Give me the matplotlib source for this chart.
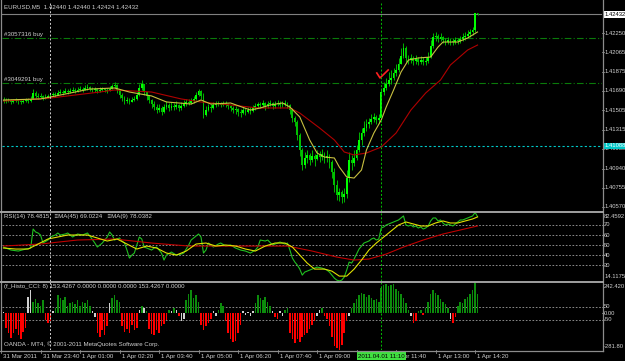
import matplotlib
matplotlib.use('Agg')
import matplotlib.pyplot as plt
import matplotlib.transforms as mtrans
import numpy as np

# ---------------- data (EURUSD M5, bar 0 = 31 Mar 22:25, bar 192 = 1 Apr 14:25) ----------------
closes = [1.41603,1.41593,1.41603,1.41584,1.41593,1.41603,1.41593,1.41584,1.41593,1.41603,
          1.41593,1.41613,1.41671,1.41642,1.41633,1.41642,1.41623,1.41633,1.41642,1.41652,
          1.41662,1.41652,1.41671,1.41681,1.41671,1.41690,1.41681,1.41690,1.41700,1.41690,
          1.41700,1.41710,1.41700,1.41719,1.41729,1.41710,1.41700,1.41710,1.41690,1.41700,
          1.41710,1.41700,1.41690,1.41710,1.41738,1.41748,1.41700,1.41652,1.41623,1.41593,
          1.41603,1.41584,1.41603,1.41613,1.41652,1.41719,1.41758,1.41681,1.41642,1.41603,
          1.41565,1.41536,1.41507,1.41526,1.41488,1.41536,1.41555,1.41526,1.41545,1.41536,
          1.41555,1.41526,1.41545,1.41565,1.41584,1.41574,1.41593,1.41613,1.41652,1.41690,
          1.41642,1.41458,1.41507,1.41536,1.41526,1.41555,1.41565,1.41574,1.41555,1.41574,
          1.41565,1.41545,1.41526,1.41507,1.41516,1.41488,1.41478,1.41507,1.41488,1.41507,
          1.41497,1.41526,1.41545,1.41565,1.41555,1.41574,1.41545,1.41565,1.41574,1.41545,
          1.41565,1.41574,1.41555,1.41565,1.41574,1.41555,1.41507,1.41429,1.41391,1.41266,
          1.41121,1.40976,1.41044,1.41073,1.41024,1.41063,1.41034,1.41073,1.41053,1.41082,
          1.41044,1.41063,1.41005,1.40908,1.40782,1.40685,1.40715,1.40666,1.40695,1.40850,
          1.41024,1.40995,1.41044,1.41121,1.41217,1.41285,1.41333,1.41372,1.41391,1.41420,
          1.41439,1.41410,1.41429,1.41681,1.41719,1.41758,1.41796,1.41815,1.41864,1.41893,
          1.41951,1.42029,1.42105,1.42010,1.41990,1.42010,1.41981,1.42000,1.41971,1.41990,
          1.41971,1.41981,1.42019,1.42125,1.42212,1.42221,1.42192,1.42212,1.42183,1.42163,
          1.42183,1.42173,1.42163,1.42183,1.42173,1.42192,1.42212,1.42221,1.42241,1.42260,
          1.42279,1.42440,1.42432]
highs = [1.41633,1.41623,1.41623,1.41613,1.41613,1.41623,1.41613,1.41603,1.41613,1.41623,
         1.41623,1.41642,1.41710,1.41690,1.41671,1.41671,1.41652,1.41662,1.41662,1.41671,
         1.41681,1.41681,1.41700,1.41710,1.41700,1.41719,1.41710,1.41719,1.41729,1.41719,
         1.41729,1.41738,1.41729,1.41748,1.41758,1.41738,1.41729,1.41729,1.41719,1.41729,
         1.41729,1.41719,1.41719,1.41738,1.41758,1.41777,1.41758,1.41710,1.41671,1.41642,
         1.41633,1.41623,1.41633,1.41642,1.41681,1.41758,1.41796,1.41758,1.41681,1.41652,
         1.41613,1.41593,1.41565,1.41565,1.41545,1.41565,1.41593,1.41574,1.41584,1.41574,
         1.41593,1.41565,1.41584,1.41603,1.41613,1.41613,1.41623,1.41642,1.41681,1.41710,
         1.41700,1.41671,1.41545,1.41565,1.41565,1.41584,1.41593,1.41593,1.41584,1.41593,
         1.41593,1.41574,1.41555,1.41545,1.41545,1.41526,1.41516,1.41536,1.41526,1.41536,
         1.41536,1.41555,1.41574,1.41584,1.41584,1.41603,1.41584,1.41593,1.41603,1.41584,
         1.41593,1.41603,1.41593,1.41593,1.41603,1.41584,1.41565,1.41526,1.41449,1.41410,
         1.41285,1.41140,1.41102,1.41121,1.41092,1.41121,1.41082,1.41121,1.41111,1.41131,
         1.41102,1.41121,1.41082,1.41024,1.40947,1.40831,1.40753,1.40734,1.40753,1.40928,
         1.41102,1.41073,1.41121,1.41169,1.41295,1.41333,1.41400,1.41420,1.41429,1.41468,
         1.41478,1.41458,1.41468,1.41719,1.41777,1.41815,1.41873,1.41893,1.41912,1.41951,
         1.42010,1.42105,1.42154,1.42125,1.42038,1.42048,1.42029,1.42038,1.42019,1.42029,
         1.42019,1.42019,1.42067,1.42183,1.42250,1.42260,1.42241,1.42250,1.42221,1.42202,
         1.42212,1.42202,1.42202,1.42212,1.42202,1.42221,1.42250,1.42260,1.42279,1.42289,
         1.42308,1.42443,1.42440]
lows = [1.41574,1.41574,1.41584,1.41565,1.41574,1.41584,1.41565,1.41565,1.41574,1.41584,
        1.41574,1.41584,1.41613,1.41623,1.41613,1.41623,1.41603,1.41613,1.41623,1.41633,
        1.41642,1.41633,1.41652,1.41662,1.41652,1.41671,1.41662,1.41671,1.41681,1.41671,
        1.41681,1.41690,1.41681,1.41700,1.41700,1.41690,1.41681,1.41681,1.41671,1.41681,
        1.41690,1.41681,1.41671,1.41690,1.41710,1.41719,1.41671,1.41623,1.41593,1.41565,
        1.41574,1.41565,1.41584,1.41593,1.41603,1.41642,1.41700,1.41652,1.41603,1.41574,
        1.41526,1.41507,1.41478,1.41488,1.41458,1.41478,1.41516,1.41497,1.41507,1.41507,
        1.41516,1.41497,1.41507,1.41536,1.41545,1.41555,1.41565,1.41574,1.41603,1.41642,
        1.41613,1.41429,1.41449,1.41497,1.41488,1.41516,1.41536,1.41545,1.41536,1.41545,
        1.41536,1.41516,1.41497,1.41478,1.41468,1.41449,1.41439,1.41468,1.41458,1.41478,
        1.41468,1.41488,1.41507,1.41526,1.41526,1.41536,1.41507,1.41526,1.41545,1.41516,
        1.41526,1.41545,1.41526,1.41536,1.41545,1.41526,1.41468,1.41391,1.41352,1.41217,
        1.41063,1.40928,1.40947,1.40995,1.40976,1.41005,1.40966,1.41024,1.41005,1.41024,
        1.40995,1.41005,1.40947,1.40850,1.40715,1.40637,1.40627,1.40608,1.40618,1.40656,
        1.40811,1.40928,1.40966,1.41024,1.41102,1.41169,1.41256,1.41304,1.41333,1.41372,
        1.41391,1.41372,1.41381,1.41391,1.41652,1.41700,1.41738,1.41758,1.41796,1.41835,
        1.41873,1.41951,1.42010,1.41971,1.41951,1.41961,1.41941,1.41951,1.41941,1.41951,
        1.41941,1.41941,1.41961,1.42010,1.42105,1.42173,1.42163,1.42173,1.42154,1.42134,
        1.42144,1.42134,1.42134,1.42144,1.42144,1.42154,1.42173,1.42183,1.42202,1.42212,
        1.42231,1.42260,1.42424]
first_open = 1.41598

ma_fast_idx = [0, 15, 23, 35, 45, 51, 60, 66, 76, 80, 84, 92, 100, 104, 108, 113, 116, 120, 124, 127,
               130, 134, 136, 139, 142, 145, 147, 150, 153, 155, 158, 161, 164, 168, 173, 176, 178, 184, 188, 192]
ma_fast_val = [1.41603,1.41613,1.41651,1.41709,1.41719,1.41680,1.41642,1.41584,1.41564,1.41603,1.41564,1.41574,
               1.41506,1.41526,1.41555,1.41574,1.41535,1.41439,1.41217,1.41091,1.41052,1.41043,1.40956,1.40859,
               1.40849,1.40927,1.41120,1.41284,1.41410,1.41535,1.41700,1.41873,1.41989,1.42009,1.42018,1.42115,
               1.42163,1.42163,1.42202,1.42260]
ma_slow_idx = [0, 19, 39, 45, 60, 72, 80, 92, 103, 116, 120, 128, 134, 138, 142, 147, 153, 159, 165, 171,
               177, 181, 188, 192]
ma_slow_val = [1.41593,1.41622,1.41680,1.41700,1.41680,1.41613,1.41584,1.41555,1.41526,1.41526,1.41477,1.41333,
               1.41217,1.41101,1.41072,1.41091,1.41149,1.41284,1.41506,1.41671,1.41796,1.41941,1.42086,1.42134]

rsi_idx = [0,3,6,9,11,12,13,14,15,16,18,19,21,22,23,25,26,27,28,30,32,34,35,37,38,39,40,42,43,44,45,47,48,49,
           50,51,52,53,54,55,56,57,59,60,61,62,64,65,66,68,70,72,73,75,76,78,79,80,81,82,83,85,87,88,90,92,94,
           96,98,100,102,103,104,106,107,109,111,112,114,115,116,117,118,119,120,121,122,123,124,126,127,129,
           131,132,133,134,135,136,137,138,139,140,141,142,143,144,145,146,147,148,149,150,151,152,153,154,
           155,156,157,158,159,160,161,162,163,164,165,166,167,168,169,170,171,172,173,174,175,176,177,178,
           179,180,181,182,183,184,185,186,187,188,189,190,191,192]
rsi_val = [48,45,44,46,47,66,63,62,60,52,55,58,60,62,60,61,62,60,58,61,60,62,59,52,48,50,52,58,63,60,55,57,54,52,
           45,37,40,42,50,58,56,48,46,45,47,48,42,35,40,43,40,41,42,50,55,59,61,58,42,45,52,48,51,52,49,50,47,
           45,44,42,45,48,55,54,55,50,52,53,51,52,45,37,33,30,26,20,23,24,25,27,28,27,
           25,23,20,17,15,14.2,15,18,25,33,32,36,41,46,49,52,53,54,56,57,55,56,67,68,
           70,71,72,73,74,75,77,79,70,69,70,68,69,67,68,66,67,69,74,77,77,74,75,72,
           70,71,70,69,71,73,75,75,76,77,78,79,82.4592,78.4815]
rsi_ma9_idx = [0,5,10,14,18,22,26,30,34,38,42,46,50,54,58,62,66,70,74,78,82,86,90,94,98,102,106,110,114,117,
               120,123,126,130,133,136,139,142,145,148,151,154,157,160,163,166,169,172,175,178,181,184,187,190,192]
rsi_ma9_val = [47,46,46,51,56,58,60,60,60,57,54,56,51,46,49,47,42,40,44,51,52,49,50,49,46,44,49,52,52,48,
               40,32,26,26,24,19,19,26,35,45,52,58,64,70,73,71,69,69,72,74,72,72,74,76,78.04]
rsi_ma45_idx = [0,15,30,45,60,75,90,105,115,125,135,142,148,155,162,170,178,185,192]
rsi_ma45_val = [49,51,55,56,52,49,49,49,49,44,38,35,36,41,48,55,61,65,69.02]

cci = [10,-110,-150,-190,-150,-120,-170,-200,-140,-110,
       123,177,90,115,80,60,100,-50,-77,-60,
       20,40,140,120,100,130,60,80,90,70,
       100,60,90,80,100,60,15,-30,-150,-180,
       -130,-170,-100,77,120,140,100,85,-100,-140,
       -120,-150,-90,-130,-110,30,60,40,20,-120,
       -160,-170,-130,-150,-100,-80,-50,30,20,40,
       25,-20,-60,-40,100,150,177,120,140,90,
       -90,-130,-100,-70,-40,20,-20,30,77,60,
       -60,-150,-200,-220,-210,-150,-90,20,-15,10,
       -20,15,80,140,120,100,130,90,60,20,
       -30,-40,15,-20,30,40,-150,-200,-230,-200,
       -220,-185,-170,-150,-120,-90,-60,-20,30,40,
       -20,-40,-100,-180,-250,-270,-281.803,-240,-150,-60,
       -20,40,80,110,140,160,150,130,140,120,
       100,110,90,200,220,230,210,220,230,190,
       170,150,120,80,30,-20,-75,-60,20,30,
       -10,40,90,150,180,160,140,110,90,70,
       40,-40,-75,-30,60,90,80,110,130,150,
       180,242.42,153.4267]
cci_white = [0, 10, 11, 20, 36, 37, 43, 55, 57, 68, 70, 72, 73, 85, 86, 97, 98, 99, 100, 101,
             109, 112, 113, 127, 128, 140, 165, 181]

price_ticks = [1.42250, 1.42065, 1.41875, 1.41690, 1.41505, 1.41315, 1.41130, 1.40940, 1.40755, 1.40570]
time_tick_idx = [-1, 15, 31, 47, 63, 79, 95, 111, 127, 175, 191]
time_tick_lbl = ['31 Mar 2011', '31 Mar 23:40', '1 Apr 01:00', '1 Apr 02:20', '1 Apr 03:40', '1 Apr 05:00',
                 '1 Apr 06:20', '1 Apr 07:40', '1 Apr 09:00', '1 Apr 13:00', '1 Apr 14:20']
hidden_tick_idx = [143, 159]
order_prices = [1.42202, 1.41767]
order_labels = ['#3057316 buy', '#3049291 buy']
bid_price = 1.42432
hline_price = 1.41159
hline_label = '1.41088'
sep_idx = 19
cursor_idx = 153
cursor_label = '2011.04.01 11:10'
rsi_levels = [70, 60, 50, 40, 30]
cci_levels = [50, -50]

# ---------------- figure ----------------
W, H = 625, 361
fig = plt.figure(figsize=(W/100, H/100), dpi=100, facecolor='black')
FONT = 'Liberation Sans'
FS = 4.4
FSR = 4.2
TXT = '#d0d0d0'
GRAY = '#8c8c8c'

def add_ax(x0, y0, x1, y1):
    ax = fig.add_axes([x0/W, 1-y1/H, (x1-x0)/W, (y1-y0)/H])
    ax.set_facecolor('black')
    ax.set_xticks([]); ax.set_yticks([])
    for s in ax.spines.values():
        s.set_visible(False)
    return ax

PITCH = 2.469
X0 = 3.5
ax_p = add_ax(2, 3, 602, 211)
ax_r = add_ax(2, 212.5, 602, 281)
ax_c = add_ax(2, 282, 602, 350)
for a in (ax_p, ax_r, ax_c):
    a.set_xlim((2-X0)/PITCH, (602-X0)/PITCH)
ax_p.set_ylim(1.42569-0.0000966*211, 1.42569-0.0000966*3)
ax_r.set_ylim(14.1175, 82.4592)
ax_c.set_ylim(-281.803, 242.420)

# candles
n = len(closes)
idx = np.arange(n)
opens = np.array([first_open] + closes[:-1])
cl = np.array(closes)
bull = cl >= opens
ax_p.vlines(idx, lows, highs, color='#00b400', lw=0.7, zorder=3)
body_lo = np.minimum(opens, cl)
body_h = np.maximum(np.abs(cl - opens), 0.00004)
ax_p.bar(idx[bull], body_h[bull], bottom=body_lo[bull], width=0.72, color='#00ff00', edgecolor='none', zorder=4)
ax_p.bar(idx[~bull], body_h[~bull], bottom=body_lo[~bull], width=0.72, color='#00c000', edgecolor='none', zorder=4)

ax_p.plot(ma_slow_idx, ma_slow_val, color='#b00000', lw=0.8, zorder=5)
ax_p.plot(ma_fast_idx, ma_fast_val, color='#c8c040', lw=0.8, zorder=5)

bt = mtrans.blended_transform_factory
tp = bt(ax_p.transAxes, ax_p.transData)
# order lines
for pr, lb in zip(order_prices, order_labels):
    ax_p.axhline(pr, color='#0a7a0a', lw=0.8, ls=(0, (6, 2, 1, 2)), zorder=2)
    ax_p.text(0.004, pr + 0.00035, lb, transform=tp, color=TXT, fontsize=FS, family=FONT, va='center', ha='left')
ax_p.axhline(bid_price, color='#808080', lw=0.8, zorder=2)
ax_p.axhline(hline_price, color='#00c8c8', lw=0.8, ls=(0, (2, 2)), zorder=2)

# trade arrow (check mark)
ax_p.plot([cursor_idx-1.8, cursor_idx-0.5, cursor_idx+2.8], [1.41864, 1.41816, 1.41893],
          color='#ff2020', lw=1.2, zorder=6)

# RSI
for lv in rsi_levels:
    ax_r.axhline(lv, color='#a0a0a0', lw=0.6, ls=(0, (2, 2)))
ax_r.plot(rsi_idx, rsi_val, color='#20c020', lw=0.8, zorder=3)
ax_r.plot(rsi_ma45_idx, rsi_ma45_val, color='#c00000', lw=0.8, zorder=4)
ax_r.plot(rsi_ma9_idx, rsi_ma9_val, color='#e0e000', lw=0.8, zorder=5)

# CCI
for lv in cci_levels:
    ax_c.axhline(lv, color='#a0a0a0', lw=0.6, ls=(0, (2, 2)))
cols = []
for i, v in enumerate(cci):
    if i in cci_white:
        cols.append('#d0d0d0')
    elif v >= 0:
        cols.append('#0c8c0c')
    else:
        cols.append('#ff0000')
ax_c.bar(np.arange(len(cci)), cci, width=0.62, color=cols, edgecolor='none', zorder=3)

# vertical lines
for a in (ax_p, ax_r, ax_c):
    a.axvline(sep_idx, color='#d0d0d0', lw=0.7, ls=(0, (2, 2)), zorder=7)
    a.axvline(cursor_idx, color='#00c000', lw=0.7, ls=(0, (2, 2)), zorder=7)

# ---------------- texts / axes ----------------
for pt in price_ticks:
    ax_p.text(1.0035, pt, '%.5f' % pt, transform=tp, color=TXT, fontsize=FSR, family=FONT,
              va='center', ha='left', clip_on=False)
    ax_p.plot([1.0, 1.0035], [pt, pt], transform=tp, color=GRAY, lw=0.6, clip_on=False)
ax_p.text(1.0035, bid_price, '%.5f' % bid_price, transform=tp, color='black', fontsize=FSR, family=FONT,
          va='center', ha='left', clip_on=False,
          bbox=dict(boxstyle='square,pad=0.15', fc='white', ec='none'))
ax_p.text(1.0035, hline_price, hline_label, transform=tp, color='white', fontsize=FSR, family=FONT,
          va='center', ha='left', clip_on=False,
          bbox=dict(boxstyle='square,pad=0.15', fc='#00c8c8', ec='none'))

ax_p.text(0.004, 0.982, 'EURUSD,M5  1.42440 1.42440 1.42424 1.42432', transform=ax_p.transAxes,
          color=TXT, fontsize=FS, family=FONT, va='center', ha='left')

tr = bt(ax_r.transAxes, ax_r.transData)
for lv in rsi_levels:
    ax_r.text(1.0035, lv, str(lv), transform=tr, color=TXT, fontsize=FSR, family=FONT, va='center', ha='left', clip_on=False)
    ax_r.plot([1.0, 1.0035], [lv, lv], transform=tr, color=GRAY, lw=0.6, clip_on=False)
ax_r.text(1.0035, 0.94, '82.4592', transform=ax_r.transAxes, color=TXT, fontsize=FSR, family=FONT, va='center', ha='left', clip_on=False)
ax_r.text(1.0035, 0.07, '14.1175', transform=ax_r.transAxes, color=TXT, fontsize=FSR, family=FONT, va='center', ha='left', clip_on=False)
ax_r.text(0.004, 0.935, 'RSI(14) 78.4815   \u2261MA(45) 69.0224   \u2261MA(9) 78.0382', transform=ax_r.transAxes,
          color=TXT, fontsize=FS, family=FONT, va='center', ha='left')

tc = bt(ax_c.transAxes, ax_c.transData)
for lv, lb in [(50, '50'), (0, '0.00'), (-50, '-50')]:
    ax_c.text(1.0035, lv, lb, transform=tc, color=TXT, fontsize=FSR, family=FONT, va='center', ha='left', clip_on=False)
    ax_c.plot([1.0, 1.0035], [lv, lv], transform=tc, color=GRAY, lw=0.6, clip_on=False)
ax_c.text(1.0035, 0.94, '242.420', transform=ax_c.transAxes, color=TXT, fontsize=FSR, family=FONT, va='center', ha='left', clip_on=False)
ax_c.text(1.0035, 0.05, '-281.80', transform=ax_c.transAxes, color=TXT, fontsize=FSR, family=FONT, va='center', ha='left', clip_on=False)
ax_c.text(0.004, 0.93, '(f_Histo_CCI: 8) 153.4267 0.0000 0.0000 0.0000 153.4267 0.0000', transform=ax_c.transAxes,
          color=TXT, fontsize=FS, family=FONT, va='center', ha='left')
ax_c.text(0.004, 0.09, 'OANDA - MT4, \u00a9 2001-2011 MetaQuotes Software Corp.', transform=ax_c.transAxes,
          color=TXT, fontsize=FS, family=FONT, va='center', ha='left')

ttx = bt(ax_c.transData, ax_c.transAxes)
for ti, tl in zip(time_tick_idx, time_tick_lbl):
    ax_c.plot([ti, ti], [0, -0.04], transform=ttx, color=GRAY, lw=0.6, clip_on=False)
    ax_c.text(ti + 0.8, -0.09, tl, transform=ttx, color=TXT, fontsize=FS, family=FONT,
              va='center', ha='left', clip_on=False)
for ti in hidden_tick_idx:
    ax_c.plot([ti, ti], [0, -0.04], transform=ttx, color=GRAY, lw=0.6, clip_on=False)
ax_c.text(hidden_tick_idx[1] + 3.4, -0.09, 'pr 11:40', transform=ttx, color=TXT, fontsize=FS, family=FONT,
          va='center', ha='left', clip_on=False)
ax_c.text(cursor_idx, -0.09, cursor_label, transform=ttx, color='black', fontsize=FS, family=FONT,
          va='center', ha='center', clip_on=False, zorder=10,
          bbox=dict(boxstyle='square,pad=0.2', fc='#40e040', ec='none'))

# frame overlay
ov = fig.add_axes([0, 0, 1, 1])
ov.set_xlim(0, W); ov.set_ylim(H, 0)
ov.patch.set_alpha(0)
ov.axis('off')
ov.plot([602.5, 602.5], [0, 350.5], color=GRAY, lw=0.9)
ov.plot([1, 1], [0, 350.5], color=GRAY, lw=0.9)
ov.plot([0, 602.5], [211.7, 211.7], color='#a0a0a0', lw=1.4)
ov.plot([0, 602.5], [281.5, 281.5], color='#a0a0a0', lw=1.4)
ov.plot([0, 602.5], [350.5, 350.5], color=GRAY, lw=0.9)

fig.savefig('out.png', dpi=100, facecolor='black')
